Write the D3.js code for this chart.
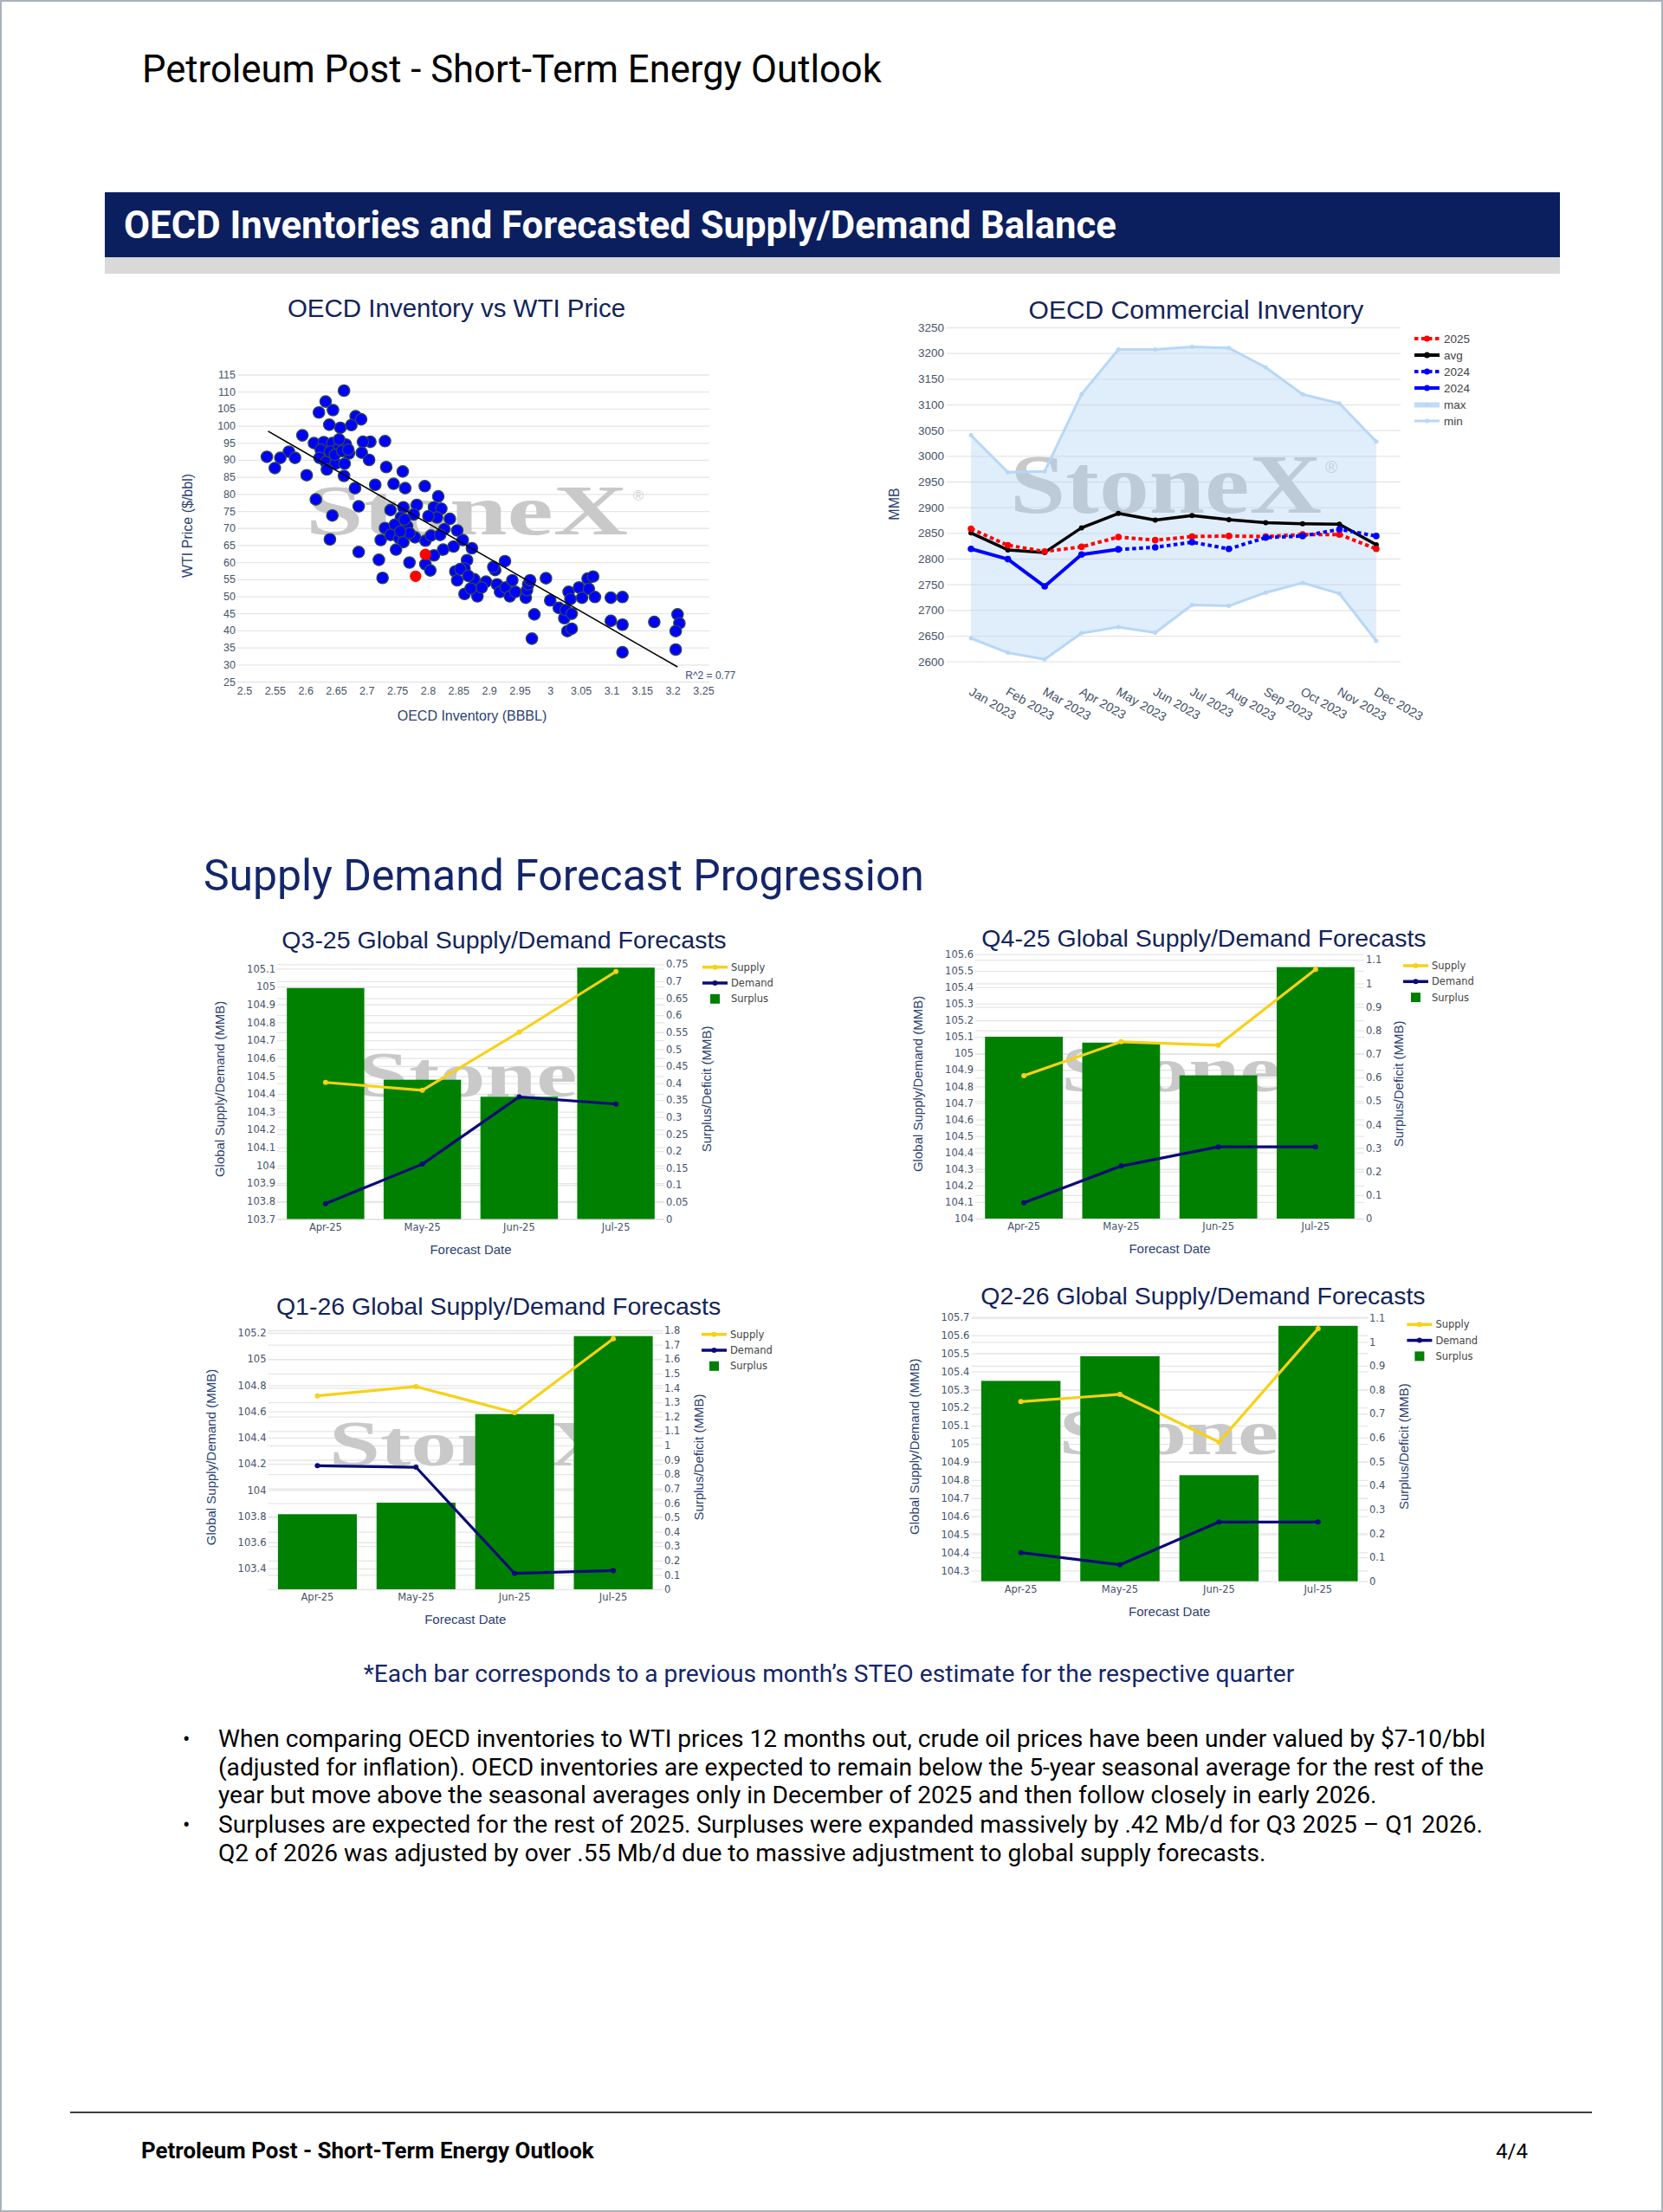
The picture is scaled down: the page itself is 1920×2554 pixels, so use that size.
<!DOCTYPE html>
<html>
<head>
<meta charset="utf-8">
<title>Petroleum Post - Short-Term Energy Outlook</title>
<script src="https://cdn.jsdelivr.net/npm/d3@7"></script>
<style>
  html, body { margin: 0; padding: 0; background: #fff; }
  svg { display: block; }
</style>
</head>
<body>
<svg id="page" width="1920" height="2554"></svg>
<script>
// ---------------- data ----------------

// OECD inventory (BBBL) vs WTI price ($/bbl)
const scatterInventory = [
  2.663, 2.633, 2.622, 2.645, 2.682, 2.691, 2.639, 2.657, 2.675, 2.595,
  2.730, 2.706, 2.694, 2.614, 2.630, 2.644, 2.656, 2.666, 2.625, 2.652,
  2.640, 2.671, 2.573, 2.583, 2.559, 2.537, 2.550, 2.623, 2.633, 2.649,
  2.664, 2.692, 2.704, 2.635, 2.602, 2.663, 2.732, 2.759, 2.681, 2.714,
  2.744, 2.763, 2.795, 2.617, 2.687, 2.644, 2.640, 2.687, 2.720, 2.726,
  2.723, 2.730, 2.739, 2.760, 2.782, 2.817, 2.810, 2.822, 2.815, 2.836,
  2.756, 2.766, 2.746, 2.739, 2.753, 2.760, 2.748, 2.779, 2.796, 2.805,
  2.827, 2.848, 2.842, 2.825, 2.857, 2.872, 2.864, 2.810, 2.796, 2.804,
  2.770, 2.845, 2.860, 2.848, 2.876, 2.860, 2.881, 2.895, 2.888, 2.820,
  2.777, 2.801, 2.648, 2.660, 2.655, 2.670, 2.762, 2.770, 2.755, 2.853,
  2.866, 2.870,
  2.910, 2.926, 2.907, 2.913, 2.918, 2.927, 2.934, 2.938, 2.943, 2.960,
  2.962, 2.964, 2.967, 2.974, 2.970, 2.993, 3.000, 3.014, 3.023, 3.028,
  3.035, 3.025, 3.035, 3.030, 3.033, 3.047, 3.052, 3.061, 3.070, 3.063,
  3.073, 3.099, 3.118, 3.099, 3.118, 3.118, 3.170, 3.208, 3.211, 3.205,
  3.205
];
const scatterPrice = [
  110.3, 107.1, 103.9, 104.6, 102.8, 101.9, 100.3, 99.4, 100.2, 97.2,
  95.5, 95.3, 95.3, 94.9, 95.2, 94.9, 94.1, 94.5, 93.0, 93.0,
  92.4, 91.9, 92.4, 90.6, 90.6, 90.9, 87.6, 90.6, 89.4, 88.9,
  88.9, 92.1, 90.0, 87.2, 85.5, 85.3, 87.9, 86.6, 81.7, 82.7,
  83.0, 81.7, 82.3, 78.4, 76.4, 73.7, 66.7, 63.0, 60.7, 55.4,
  66.5, 70.0, 75.3, 76.1, 76.8, 79.3, 76.1, 75.7, 73.1, 72.7,
  73.1, 70.6, 71.0, 68.0, 67.1, 65.9, 63.7, 67.3, 66.3, 67.8,
  69.7, 69.3, 64.6, 63.7, 66.5, 64.1, 60.6, 62.0, 59.4, 57.6,
  59.9, 57.3, 58.2, 54.7, 55.0, 50.7, 50.0, 54.3, 52.6, 68.0,
  74.0, 73.5, 91.5, 92.6, 96.0, 93.0, 72.5, 68.5, 69.0, 58.0,
  56.0, 52.3,
  57.7, 60.3, 58.6, 53.5, 51.3, 52.6, 50.0, 54.7, 51.3, 49.6,
  51.8, 53.5, 54.7, 44.7, 37.6, 55.3, 48.8, 46.6, 43.6, 39.8,
  40.5, 46.0, 44.9, 51.3, 49.2, 52.6, 49.6, 55.2, 55.8, 52.2,
  49.8, 49.6, 49.8, 42.8, 41.7, 33.6, 42.5, 44.7, 42.1, 39.8,
  34.4
];
const highlightInventory = [2.796, 2.780];
const highlightPrice = [62.3, 55.9];
const trendInventory = [2.539, 3.208];
const trendPrice = [98.4, 29.3];
const rSquaredText = 'R^2 = 0.77';
const inventoryTicks = [2.5, 2.55, 2.6, 2.65, 2.7, 2.75, 2.8, 2.85, 2.9, 2.95, 3, 3.05, 3.1, 3.15, 3.2, 3.25];
const priceTicks = [25, 30, 35, 40, 45, 50, 55, 60, 65, 70, 75, 80, 85, 90, 95, 100, 105, 110, 115];

// OECD commercial inventory (MMB)
const months = ['Jan 2023', 'Feb 2023', 'Mar 2023', 'Apr 2023', 'May 2023', 'Jun 2023',
                'Jul 2023', 'Aug 2023', 'Sep 2023', 'Oct 2023', 'Nov 2023', 'Dec 2023'];
const invMax = [3040, 2968, 2970, 3120, 3207, 3207, 3212, 3210, 3172, 3120, 3102, 3028];
const invMin = [2645, 2617, 2604, 2655, 2667, 2656, 2710, 2708, 2734, 2753, 2732, 2640];
const invAvg = [2850, 2817, 2812, 2860, 2888, 2875, 2884, 2876, 2870, 2868, 2867, 2827];
const inv2025 = [2858, 2826, 2814, 2823, 2842, 2836, 2843, 2844, 2843, 2847, 2847, 2819];
const inv2024Solid = [2819, 2799, 2746, 2808, 2818, null, null, null, null, null, null, null];
const inv2024Dotted = [null, null, null, null, 2818, 2822, 2832, 2819, 2841, 2844, 2857, 2844];
const mmbTicks = [2600, 2650, 2700, 2750, 2800, 2850, 2900, 2950, 3000, 3050, 3100, 3150, 3200, 3250];
const invLegendNames = ['2025', 'avg', '2024', '2024', 'max', 'min'];

// supply / demand forecast progression
const forecastDates = ['Apr-25', 'May-25', 'Jun-25', 'Jul-25'];
const q325Supply = [104.464, 104.420, 104.745, 105.084];
const q325Demand = [103.786, 104.007, 104.383, 104.343];
const q325Surplus = [0.68, 0.41, 0.36, 0.74];
const q425Supply = [104.865, 105.070, 105.049, 105.508];
const q425Demand = [104.096, 104.318, 104.434, 104.434];
const q425Surplus = [0.773, 0.748, 0.609, 1.069];
const q126Supply = [104.719, 104.790, 104.591, 105.156];
const q126Demand = [104.185, 104.174, 103.362, 103.384];
const q126Surplus = [0.522, 0.602, 1.218, 1.760];
const q226Supply = [105.233, 105.273, 105.010, 105.636];
const q226Demand = [104.399, 104.332, 104.568, 104.568];
const q226Surplus = [0.837, 0.940, 0.443, 1.067];

const q325LeftTicks = [103.7, 103.8, 103.9, 104, 104.1, 104.2, 104.3, 104.4, 104.5, 104.6, 104.7, 104.8, 104.9, 105, 105.1];
const q325RightTicks = [0, 0.05, 0.1, 0.15, 0.2, 0.25, 0.3, 0.35, 0.4, 0.45, 0.5, 0.55, 0.6, 0.65, 0.7, 0.75];
const q425LeftTicks = [104, 104.1, 104.2, 104.3, 104.4, 104.5, 104.6, 104.7, 104.8, 104.9, 105, 105.1, 105.2, 105.3, 105.4, 105.5, 105.6];
const q425RightTicks = [0, 0.1, 0.2, 0.3, 0.4, 0.5, 0.6, 0.7, 0.8, 0.9, 1, 1.1];
const q126LeftTicks = [103.4, 103.6, 103.8, 104, 104.2, 104.4, 104.6, 104.8, 105, 105.2];
const q126RightTicks = [0, 0.1, 0.2, 0.3, 0.4, 0.5, 0.6, 0.7, 0.8, 0.9, 1, 1.1, 1.2, 1.3, 1.4, 1.5, 1.6, 1.7, 1.8];
const q226LeftTicks = [104.3, 104.4, 104.5, 104.6, 104.7, 104.8, 104.9, 105, 105.1, 105.2, 105.3, 105.4, 105.5, 105.6, 105.7];
const q226RightTicks = [0, 0.1, 0.2, 0.3, 0.4, 0.5, 0.6, 0.7, 0.8, 0.9, 1, 1.1];

const bulletLines = [
  ['When comparing OECD inventories to WTI prices 12 months out, crude oil prices have been under valued by $7-10/bbl',
   '(adjusted for inflation). OECD inventories are expected to remain below the 5-year seasonal average for the rest of the',
   'year but move above the seasonal averages only in December of 2025 and then follow closely in early 2026.'],
  ['Surpluses are expected for the rest of 2025. Surpluses were expanded massively by .42 Mb/d for Q3 2025 \u2013 Q1 2026.',
   'Q2 of 2026 was adjusted by over .55 Mb/d due to massive adjustment to global supply forecasts.']
];

// ---------------- styling ----------------
const PAGE_FONT = "Roboto, 'Noto Sans', Arial, sans-serif";
const CHART_FONT = "'Liberation Sans', Arial, sans-serif";
const TICK_FONT = "'DejaVu Sans', Verdana, sans-serif";
const MARK_FONT = "'Liberation Serif', 'DejaVu Serif', serif";
const NAVY = '#0b1f5f';
const TITLE_C = '#13245a';
const AXIS_C = '#2c3f72';
const TICK_C = '#46536a';
const GRID_C = '#e6e6e6';

const fmt = d => String(+d.toFixed(3));

const svg = d3.select('#page');

// scale a text's font size so it spans the measured width
function fitWidth(t, w) {
  const len = t.node().getComputedTextLength();
  const fs = parseFloat(t.attr('font-size'));
  t.attr('font-size', (fs * w / len).toFixed(2));
  return fs * w / len;
}

function watermark(g, x, baseline, size, width, regX, regY) {
  g.append('text')
    .attr('x', x).attr('y', baseline)
    .attr('font-family', MARK_FONT).attr('font-weight', 'bold')
    .attr('font-size', size)
    .attr('textLength', width).attr('lengthAdjust', 'spacingAndGlyphs')
    .attr('fill', '#c9c9c9')
    .text('StoneX');
  if (regX) {
    g.append('text').attr('x', regX).attr('y', regY)
      .attr('font-family', CHART_FONT).attr('font-size', size * 0.2)
      .attr('fill', '#d0d0d0').text('\u00AE');
  }
}

function styleTicks(g, size, family, color) {
  g.select('.domain').remove();
  g.attr('font-size', null).attr('font-family', null);
  g.selectAll('text').attr('font-size', size).attr('font-family', family).attr('fill', color);
}

function gridStyle(g) {
  g.select('.domain').remove();
  g.selectAll('line').attr('stroke', GRID_C).attr('stroke-width', 1.3);
}

// ---------------- page ----------------
svg.append('rect').attr('x', 1).attr('y', 1).attr('width', 1918).attr('height', 2552)
  .attr('fill', '#fff').attr('stroke', '#aab2ba').attr('stroke-width', 2);

const header = svg.append('text').attr('x', 164).attr('y', 95)
  .attr('font-family', PAGE_FONT).attr('font-size', 40).attr('fill', '#000')
  .text('Petroleum Post - Short-Term Energy Outlook');
fitWidth(header, 854);

svg.append('rect').attr('x', 121).attr('y', 222).attr('width', 1680).attr('height', 75).attr('fill', NAVY);
svg.append('rect').attr('x', 121).attr('y', 297).attr('width', 1680).attr('height', 19).attr('fill', '#d9d9d9');
const banner = svg.append('text').attr('x', 143).attr('y', 275)
  .attr('font-family', PAGE_FONT).attr('font-weight', 'bold').attr('font-size', 44).attr('fill', '#fff')
  .text('OECD Inventories and Forecasted Supply/Demand Balance');
fitWidth(banner, 1146);

const section = svg.append('text').attr('x', 235).attr('y', 1028)
  .attr('font-family', PAGE_FONT).attr('font-size', 48).attr('fill', '#14266a')
  .text('Supply Demand Forecast Progression');
fitWidth(section, 832);

const note = svg.append('text').attr('x', 957).attr('y', 1942).attr('text-anchor', 'middle')
  .attr('font-family', PAGE_FONT).attr('font-size', 26).attr('fill', '#14266a')
  .text('*Each bar corresponds to a previous month\u2019s STEO estimate for the respective quarter');
fitWidth(note, 1075);

// bullets
const bulletBase = [2017, 2116];
let bulletSize = 25;
bulletLines.forEach((lines, bi) => {
  svg.append('text').attr('x', 211).attr('y', bulletBase[bi])
    .attr('font-family', PAGE_FONT).attr('font-size', 25).attr('fill', '#000').text('\u2022');
  lines.forEach((ln, li) => {
    const t = svg.append('text').attr('class', 'bullet')
      .attr('x', 252).attr('y', bulletBase[bi] + li * 32.5)
      .attr('font-family', PAGE_FONT).attr('font-size', bulletSize).attr('fill', '#000')
      .text(ln);
    if (bi === 0 && li === 0) bulletSize = fitWidth(t, 1463);
  });
});
svg.selectAll('text.bullet').attr('font-size', bulletSize.toFixed(2));

// footer
svg.append('line').attr('x1', 81).attr('x2', 1838).attr('y1', 2439).attr('y2', 2439)
  .attr('stroke', '#000').attr('stroke-width', 1.5);
const foot = svg.append('text').attr('x', 163).attr('y', 2492)
  .attr('font-family', PAGE_FONT).attr('font-weight', 'bold').attr('font-size', 24).attr('fill', '#000')
  .text('Petroleum Post - Short-Term Energy Outlook');
fitWidth(foot, 523);
svg.append('text').attr('x', 1764).attr('y', 2492).attr('text-anchor', 'end')
  .attr('font-family', PAGE_FONT).attr('font-size', 24).attr('fill', '#000').text('4/4');

// ---------------- scatter: OECD Inventory vs WTI Price ----------------
(function scatter() {
  const g = svg.append('g');
  const x0 = 274, x1 = 819;
  const sx = d3.scaleLinear().domain([2.4887, 3.26]).range([x0, x1]);
  const sy = d3.scaleLinear().domain([25, 115]).range([787, 432.5]);

  g.append('text').attr('x', 527).attr('y', 356).attr('dy', '0.35em').attr('text-anchor', 'middle')
    .attr('font-family', CHART_FONT).attr('font-size', 29.5).attr('fill', TITLE_C)
    .text('OECD Inventory vs WTI Price');

  g.append('g').attr('transform', `translate(${x0},0)`)
    .call(d3.axisLeft(sy).tickValues(priceTicks).tickSize(-(x1 - x0)).tickFormat(''))
    .call(gridStyle);

  watermark(g, 353, 617, 82, 372, 731, 578);

  const pts = scatterInventory.map((v, i) => ({ x: v, y: scatterPrice[i] }));
  g.append('g').selectAll('circle').data(pts).join('circle')
    .attr('cx', d => sx(d.x)).attr('cy', d => sy(d.y)).attr('r', 6.6)
    .attr('fill', '#0000ff').attr('stroke', '#2b4452').attr('stroke-width', 1.4);

  const hl = highlightInventory.map((v, i) => ({ x: v, y: highlightPrice[i] }));
  g.append('g').selectAll('circle').data(hl).join('circle')
    .attr('cx', d => sx(d.x)).attr('cy', d => sy(d.y)).attr('r', 6.6)
    .attr('fill', '#ff0000');

  const trend = trendInventory.map((v, i) => [v, trendPrice[i]]);
  g.append('path')
    .attr('d', d3.line().x(d => sx(d[0])).y(d => sy(d[1]))(trend))
    .attr('stroke', '#000').attr('stroke-width', 1.6).attr('fill', 'none');

  g.append('text').attr('x', sx(trendInventory[1]) + 9).attr('y', 780).attr('dy', '0.35em')
    .attr('font-family', CHART_FONT).attr('font-size', 12).attr('fill', '#3a4d75')
    .text(rSquaredText);

  g.append('g').attr('transform', `translate(${x0},0)`)
    .call(d3.axisLeft(sy).tickValues(priceTicks).tickSize(0).tickPadding(2).tickFormat(fmt))
    .call(a => styleTicks(a, 12.5, CHART_FONT, TICK_C));
  g.append('g').attr('transform', 'translate(0,787)')
    .call(d3.axisBottom(sx).tickValues(inventoryTicks).tickSize(0).tickPadding(6.5).tickFormat(fmt))
    .call(a => styleTicks(a, 12.5, CHART_FONT, TICK_C));

  g.append('text').attr('transform', 'translate(216,607) rotate(-90)').attr('dy', '0.35em')
    .attr('text-anchor', 'middle').attr('font-family', CHART_FONT).attr('font-size', 16).attr('fill', AXIS_C)
    .text('WTI Price ($/bbl)');
  g.append('text').attr('x', 545).attr('y', 826).attr('dy', '0.35em').attr('text-anchor', 'middle')
    .attr('font-family', CHART_FONT).attr('font-size', 16).attr('fill', AXIS_C)
    .text('OECD Inventory (BBBL)');
})();

// ---------------- OECD Commercial Inventory ----------------
(function inventory() {
  const g = svg.append('g');
  const x0 = 1093, x1 = 1617;
  const cx = d3.scalePoint().domain(months).range([x0, x1]).padding(0.66);
  const cy = d3.scaleLinear().domain([2600, 3250]).range([763.7, 378]);

  g.append('text').attr('x', 1381).attr('y', 357).attr('dy', '0.35em').attr('text-anchor', 'middle')
    .attr('font-family', CHART_FONT).attr('font-size', 30).attr('fill', TITLE_C)
    .text('OECD Commercial Inventory');

  g.append('g').attr('transform', `translate(${x0},0)`)
    .call(d3.axisLeft(cy).tickValues(mmbTicks).tickSize(-(x1 - x0)).tickFormat(''))
    .call(gridStyle);

  watermark(g, 1166, 592, 97, 360, 1530, 546);

  const idx = months.map((m, i) => i);
  const band = d3.area().x(i => cx(months[i])).y0(i => cy(invMin[i])).y1(i => cy(invMax[i]));
  g.append('path').attr('d', band(idx)).attr('fill', '#a8cff5').attr('fill-opacity', 0.36);

  function series(values, color, width, dash, r) {
    const line = d3.line().defined(i => values[i] != null)
      .x(i => cx(months[i])).y(i => cy(values[i]));
    g.append('path').attr('d', line(idx)).attr('fill', 'none')
      .attr('stroke', color).attr('stroke-width', width)
      .attr('stroke-dasharray', dash).attr('stroke-linejoin', 'round');
    g.append('g').selectAll('circle').data(idx.filter(i => values[i] != null)).join('circle')
      .attr('cx', i => cx(months[i])).attr('cy', i => cy(values[i])).attr('r', r).attr('fill', color);
  }
  series(invMax, '#b7d7f7', 3, null, 2.5);
  series(invMin, '#b7d7f7', 3, null, 2.5);
  series(invAvg, '#000000', 3.5, null, 3);
  series(inv2025, '#ff0000', 4, '4.5,3.5', 3.8);
  series(inv2024Dotted, '#0000ff', 4, '4.5,3.5', 3.8);
  series(inv2024Solid, '#0000ff', 4, null, 3.8);

  g.append('g').attr('transform', `translate(${x0},0)`)
    .call(d3.axisLeft(cy).tickValues(mmbTicks).tickSize(0).tickPadding(3).tickFormat(fmt))
    .call(a => styleTicks(a, 13.5, CHART_FONT, TICK_C));

  g.append('g').selectAll('text').data(months).join('text')
    .attr('transform', m => `translate(${cx(m) + 2},792) rotate(30)`)
    .attr('dy', '0.75em')
    .attr('font-family', CHART_FONT).attr('font-size', 14.5).attr('fill', TICK_C)
    .text(m => m);

  g.append('text').attr('transform', 'translate(1032,582) rotate(-90)').attr('dy', '0.35em')
    .attr('text-anchor', 'middle').attr('font-family', CHART_FONT).attr('font-size', 16).attr('fill', AXIS_C)
    .text('MMB');

  // legend
  const lstyle = [
    { c: '#ff0000', w: 4, dash: '4.5,3.5', op: 1 },
    { c: '#000000', w: 4, dash: null, op: 1 },
    { c: '#0000ff', w: 4, dash: '4.5,3.5', op: 1 },
    { c: '#0000ff', w: 4, dash: null, op: 1 },
    { c: '#b7d7f7', w: 6, dash: null, op: 0.9 },
    { c: '#b7d7f7', w: 3, dash: null, op: 1 }
  ];
  const rows = [391, 410, 429, 448, 467.5, 486];
  invLegendNames.forEach((name, i) => {
    const s = lstyle[i];
    g.append('line').attr('x1', 1633).attr('x2', 1662).attr('y1', rows[i]).attr('y2', rows[i])
      .attr('stroke', s.c).attr('stroke-width', s.w).attr('stroke-dasharray', s.dash).attr('stroke-opacity', s.op);
    g.append('circle').attr('cx', 1647.5).attr('cy', rows[i]).attr('r', i < 4 ? 3.5 : 2.5).attr('fill', s.c);
    g.append('text').attr('x', 1667).attr('y', rows[i]).attr('dy', '0.35em')
      .attr('font-family', CHART_FONT).attr('font-size', 13.5).attr('fill', '#444').text(name);
  });
})();

// ---------------- supply / demand bar charts ----------------
function barChart(cfg) {
  const g = svg.append('g');
  const { x0, x1, top, bottom } = cfg;
  const bx = d3.scaleBand().domain(forecastDates).range([x0, x1]).paddingInner(0.2).paddingOuter(0.1);
  const yl = d3.scaleLinear().domain(cfg.leftDomain).range([bottom, top]);
  const yr = d3.scaleLinear().domain(cfg.rightDomain).range([bottom, top]);
  const mid = (top + bottom) / 2;

  g.append('text').attr('x', cfg.titleX).attr('y', cfg.titleY).attr('dy', '0.35em').attr('text-anchor', 'middle')
    .attr('font-family', CHART_FONT).attr('font-size', 28.5).attr('fill', TITLE_C)
    .text(cfg.title);

  g.append('g').attr('transform', `translate(${x0},0)`)
    .call(d3.axisLeft(yl).tickValues(cfg.leftTicks).tickSize(-(x1 - x0)).tickFormat(''))
    .call(gridStyle);
  g.append('g').attr('transform', `translate(${x1},0)`)
    .call(d3.axisRight(yr).tickValues(cfg.rightTicks).tickSize(-(x1 - x0)).tickFormat(''))
    .call(gridStyle);

  watermark(g, cfg.wmX, mid + 6, 73, 330);

  g.append('g').selectAll('rect').data(cfg.surplus).join('rect')
    .attr('x', (d, i) => bx(forecastDates[i])).attr('width', bx.bandwidth())
    .attr('y', d => yr(d)).attr('height', d => bottom - yr(d))
    .attr('fill', '#008000');

  const cxs = d => bx(d) + bx.bandwidth() / 2;
  [[cfg.supply, '#f7d117'], [cfg.demand, '#0a0a78']].forEach(([vals, col]) => {
    const line = d3.line().x((d, i) => cxs(forecastDates[i])).y(d => yl(d));
    g.append('path').attr('d', line(vals)).attr('fill', 'none')
      .attr('stroke', col).attr('stroke-width', 3.2).attr('stroke-linejoin', 'round');
    g.append('g').selectAll('circle').data(vals).join('circle')
      .attr('cx', (d, i) => cxs(forecastDates[i])).attr('cy', d => yl(d)).attr('r', 3).attr('fill', col);
  });

  g.append('g').attr('transform', `translate(${x0},0)`)
    .call(d3.axisLeft(yl).tickValues(cfg.leftTicks).tickSize(0).tickPadding(2).tickFormat(fmt))
    .call(a => styleTicks(a, 11.5, TICK_FONT, TICK_C));
  g.append('g').attr('transform', `translate(${x1},0)`)
    .call(d3.axisRight(yr).tickValues(cfg.rightTicks).tickSize(0).tickPadding(2).tickFormat(fmt))
    .call(a => styleTicks(a, 11.5, TICK_FONT, TICK_C));
  g.append('g').attr('transform', `translate(0,${bottom})`)
    .call(d3.axisBottom(bx).tickSize(0).tickPadding(5))
    .call(a => styleTicks(a, 11.5, TICK_FONT, TICK_C));

  g.append('text').attr('transform', `translate(${x0 - 66},${mid - 3}) rotate(-90)`).attr('dy', '0.35em')
    .attr('text-anchor', 'middle').attr('font-family', CHART_FONT).attr('font-size', 15).attr('fill', AXIS_C)
    .text('Global Supply/Demand (MMB)');
  g.append('text').attr('transform', `translate(${cfg.rightTitleX},${mid - 3}) rotate(-90)`).attr('dy', '0.35em')
    .attr('text-anchor', 'middle').attr('font-family', CHART_FONT).attr('font-size', 15).attr('fill', AXIS_C)
    .text('Surplus/Deficit (MMB)');
  g.append('text').attr('x', (x0 + x1) / 2).attr('y', bottom + 35).attr('dy', '0.35em')
    .attr('text-anchor', 'middle').attr('font-family', CHART_FONT).attr('font-size', 15).attr('fill', AXIS_C)
    .text('Forecast Date');

  // legend
  const lx = cfg.legendX, ly = cfg.legendY, step = 18.3;
  [['Supply', '#f7d117'], ['Demand', '#0a0a78']].forEach(([name, col], i) => {
    const y = ly + i * step;
    g.append('line').attr('x1', lx).attr('x2', lx + 29).attr('y1', y).attr('y2', y)
      .attr('stroke', col).attr('stroke-width', 3.5);
    g.append('circle').attr('cx', lx + 14.5).attr('cy', y).attr('r', 3).attr('fill', col);
    g.append('text').attr('x', lx + 33).attr('y', y).attr('dy', '0.35em')
      .attr('font-family', TICK_FONT).attr('font-size', 11.5).attr('fill', '#444').text(name);
  });
  g.append('rect').attr('x', lx + 9).attr('y', ly + 2 * step - 5.5).attr('width', 11).attr('height', 11)
    .attr('fill', '#008000');
  g.append('text').attr('x', lx + 33).attr('y', ly + 2 * step).attr('dy', '0.35em')
    .attr('font-family', TICK_FONT).attr('font-size', 11.5).attr('fill', '#444').text('Surplus');
}

barChart({
  title: 'Q3-25 Global Supply/Demand Forecasts',
  x0: 320, x1: 767, top: 1113.3, bottom: 1407.5,
  leftDomain: [103.7, 105.125], rightDomain: [0, 0.75],
  leftTicks: q325LeftTicks, rightTicks: q325RightTicks,
  supply: q325Supply, demand: q325Demand, surplus: q325Surplus,
  titleX: 582, titleY: 1085, rightTitleX: 815.5, legendX: 811, legendY: 1116.7, wmX: 413
});
barChart({
  title: 'Q4-25 Global Supply/Demand Forecasts',
  x0: 1126, x1: 1575, top: 1101.7, bottom: 1407,
  leftDomain: [104, 105.6], rightDomain: [0, 1.124],
  leftTicks: q425LeftTicks, rightTicks: q425RightTicks,
  supply: q425Supply, demand: q425Demand, surplus: q425Surplus,
  titleX: 1390, titleY: 1083.3, rightTitleX: 1614.3, legendX: 1620, legendY: 1115, wmX: 1225
});
barChart({
  title: 'Q1-26 Global Supply/Demand Forecasts',
  x0: 309.5, x1: 765, top: 1536, bottom: 1835,
  leftDomain: [103.241, 105.22], rightDomain: [0, 1.8],
  leftTicks: q126LeftTicks, rightTicks: q126RightTicks,
  supply: q126Supply, demand: q126Demand, surplus: q126Surplus,
  titleX: 575.6, titleY: 1508.3, rightTitleX: 806.7, legendX: 810, legendY: 1540.7, wmX: 380
});
barChart({
  title: 'Q2-26 Global Supply/Demand Forecasts',
  x0: 1121.4, x1: 1579, top: 1520.7, bottom: 1825.7,
  leftDomain: [104.241, 105.7], rightDomain: [0, 1.1036],
  leftTicks: q226LeftTicks, rightTicks: q226RightTicks,
  supply: q226Supply, demand: q226Demand, surplus: q226Surplus,
  titleX: 1389, titleY: 1496, rightTitleX: 1620.9, legendX: 1624.4, legendY: 1529.3, wmX: 1222.6
});
</script>
</body>
</html>
